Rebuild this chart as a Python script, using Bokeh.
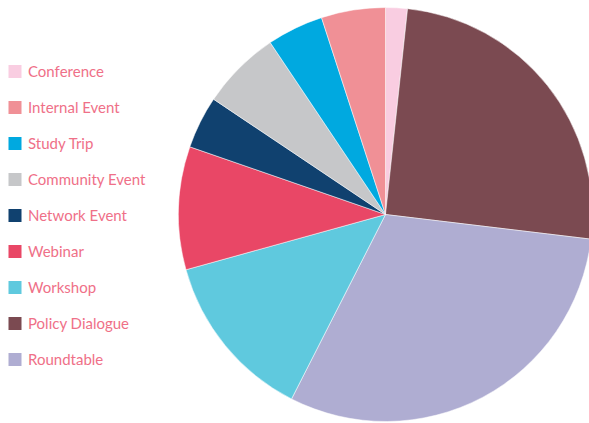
import numpy as np
from bokeh.plotting import figure
from bokeh.models import ColumnDataSource, Range1d
from bokeh.core.properties import value
from bokeh.embed import file_html
from bokeh.resources import INLINE

# Data in clockwise order starting at 12 o'clock
categories = ["Conference", "Policy Dialogue", "Roundtable", "Workshop", "Webinar",
              "Network Event", "Community Event", "Study Trip", "Internal Event"]
values = [1.7, 25.2, 30.6, 13.2, 9.6, 4.1, 6.2, 4.4, 5.0]
colors = ["#F9CDE1", "#7B4A51", "#AFADD2", "#5FC9DE", "#E94766",
          "#10416F", "#C6C7C9", "#00A9E0", "#F09096"]
legend_order = ["Conference", "Internal Event", "Study Trip", "Community Event",
                "Network Event", "Webinar", "Workshop", "Policy Dialogue", "Roundtable"]

W, H = 589, 423
v = np.array(values, dtype=float)
frac = v / v.sum()
cum = np.concatenate([[0], np.cumsum(frac)])
start = np.pi / 2 - cum[1:] * 2 * np.pi
end = np.pi / 2 - cum[:-1] * 2 * np.pi

src = ColumnDataSource(dict(cat=categories, start=start, end=end, color=colors))

p = figure(width=W, height=H, output_backend="svg", toolbar_location=None,
           x_range=Range1d(0, W), y_range=Range1d(H, 0), min_border=0)
p.axis.visible = False
p.grid.visible = False
p.outline_line_color = None
p.background_fill_color = "white"

p.wedge(x=385, y=214, radius=207, radius_units="screen",
        start_angle="start", end_angle="end", fill_color="color",
        line_color="white", line_width=0.5, source=src, direction="anticlock")

# legend
idx = [categories.index(c) for c in legend_order]
leg_colors = [colors[i] for i in idx]
rows = np.arange(len(legend_order))
ly = 71 + 36 * rows
lsrc = ColumnDataSource(dict(y=ly, label=legend_order, color=leg_colors))
p.rect(x=14.5, y="y", width=13, height=13, width_units="screen", height_units="screen",
       fill_color="color", line_color=None, source=lsrc)
p.text(x=27.5, y="y", y_offset=-1, text="label", text_font=value("Lato"), text_font_size="15px",
       text_color="#EF7088", text_baseline="middle", source=lsrc)

open("out.html", "w").write(file_html(p, INLINE))
